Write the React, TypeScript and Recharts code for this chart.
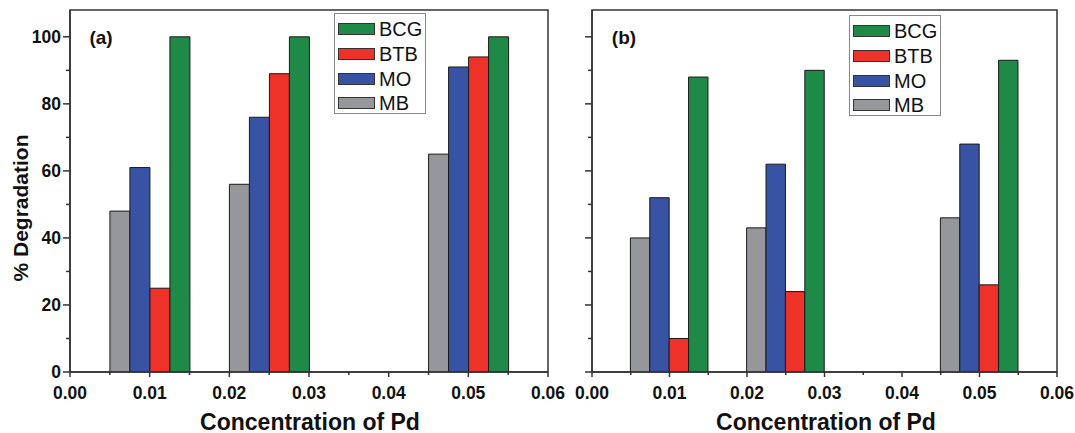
import React from "react";
import { BarChart, Bar, XAxis, YAxis, Legend, ReferenceArea } from "recharts";

// Pd concentration of each bar group
const CONCENTRATIONS = [0.01, 0.025, 0.05];
const SERIES = ["MB", "MO", "BTB", "BCG"];
const LEGEND_ORDER = ["BCG", "BTB", "MO", "MB"];

const COLORS: Record<string, string> = {
  MB: "#96979b",
  MO: "#3953a4",
  BTB: "#ee3129",
  BCG: "#1f8a47",
};

// panel (a)
const MB_A = [48, 56, 65];
const MO_A = [61, 76, 91];
const BTB_A = [25, 89, 94];
const BCG_A = [100, 100, 100];

// panel (b)
const MB_B = [40, 43, 46];
const MO_B = [52, 62, 68];
const BTB_B = [10, 24, 26];
const BCG_B = [88, 90, 93];

const X_TICKS = [0, 0.005, 0.01, 0.015, 0.02, 0.025, 0.03, 0.035, 0.04, 0.045, 0.05, 0.055, 0.06];
const Y_TICKS = [0, 10, 20, 30, 40, 50, 60, 70, 80, 90, 100];

const AXIS = "#333";
const FONT = "'Liberation Sans', Arial, sans-serif";

const dataA = CONCENTRATIONS.map((x, i) => ({ x, MB: MB_A[i], MO: MO_A[i], BTB: BTB_A[i], BCG: BCG_A[i] }));
const dataB = CONCENTRATIONS.map((x, i) => ({ x, MB: MB_B[i], MO: MO_B[i], BTB: BTB_B[i], BCG: BCG_B[i] }));

const XTick = (props: any) => {
  const { x, y, payload } = props;
  const v = payload.value;
  const major = Math.round(v * 1000) % 10 === 0;
  return (
    <g>
      <line x1={x} x2={x} y1={y} y2={y + (major ? 5 : 3)} stroke={AXIS} strokeWidth={1.5} />
      {major && (
        <text x={x} y={y + 27} textAnchor="middle" fontFamily={FONT} fontWeight="bold" fontSize={17.5} fill="#111">
          {v.toFixed(2)}
        </text>
      )}
    </g>
  );
};

const makeYTick = (showLabels: boolean) => (props: any) => {
  const { x, y, payload } = props;
  const v = payload.value;
  const major = v % 20 === 0;
  return (
    <g>
      <line x1={x - (major ? 7 : 4)} x2={x} y1={y} y2={y} stroke={AXIS} strokeWidth={1.5} />
      {showLabels && major && (
        <text x={x - 9} y={y + 6} textAnchor="end" fontFamily={FONT} fontWeight="bold" fontSize={17.5} fill="#111">
          {v}
        </text>
      )}
    </g>
  );
};

const LegendBox = () => (
  <div
    style={{
      border: "1px solid #888",
      background: "#fff",
      boxSizing: "border-box",
      width: 92,
      height: 101,
      paddingTop: 3,
      fontFamily: FONT,
    }}
  >
    {LEGEND_ORDER.map((s) => (
      <div key={s} style={{ height: 24.7, display: "flex", alignItems: "center" }}>
        <div
          style={{
            width: 37,
            height: 12,
            marginLeft: 3,
            background: COLORS[s],
            border: "1.5px solid #333",
            boxSizing: "border-box",
          }}
        />
        <span style={{ marginLeft: 4, fontSize: 20, color: "#111", lineHeight: "20px" }}>{s}</span>
      </div>
    ))}
  </div>
);

type PanelProps = {
  data: any[];
  width: number;
  yAxisWidth: number;
  right: number;
  barSize: number;
  showYLabels: boolean;
  legendPos: { left: number; top: number };
};

const Panel = ({ data, width, yAxisWidth, right, barSize, showYLabels, legendPos }: PanelProps) => (
  <BarChart
    width={width}
    height={433}
    data={data}
    margin={{ top: 10, right, left: 10, bottom: 0 }}
    barGap={0}
  >
    <XAxis
      dataKey="x"
      type="number"
      domain={[0, 0.06]}
      ticks={X_TICKS}
      interval={0}
      allowDataOverflow
      height={61}
      tickSize={0}
      tickMargin={0}
      tickLine={false}
      axisLine={{ stroke: AXIS, strokeWidth: 1.5 }}
      tick={<XTick />}
    />
    <YAxis
      type="number"
      domain={[0, 108]}
      ticks={Y_TICKS}
      interval={0}
      allowDataOverflow
      width={yAxisWidth}
      tickSize={0}
      tickMargin={0}
      tickLine={false}
      axisLine={{ stroke: AXIS, strokeWidth: 1.5 }}
      tick={makeYTick(showYLabels)}
    />
    <ReferenceArea
      x1={0}
      x2={0.06}
      y1={0}
      y2={108}
      fill="none"
      fillOpacity={0}
      stroke={AXIS}
      strokeWidth={1.5}
      strokeOpacity={1}
      ifOverflow="visible"
    />
    {SERIES.map((s) => (
      <Bar
        key={s}
        dataKey={s}
        fill={COLORS[s]}
        stroke="#1a1a1a"
        strokeWidth={1}
        barSize={barSize}
        isAnimationActive={false}
      />
    ))}
    <Legend
      layout="vertical"
      align="center"
      verticalAlign="middle"
      wrapperStyle={{ left: legendPos.left, top: legendPos.top, width: 92 }}
      content={() => <LegendBox />}
    />
  </BarChart>
);

const textBase: React.CSSProperties = {
  position: "absolute",
  fontFamily: FONT,
  fontWeight: "bold",
  color: "#111",
  whiteSpace: "nowrap",
  transform: "translate(-50%, -50%)",
};

export default function App() {
  return (
    <div style={{ position: "absolute", left: 0, top: 0, width: 1075, height: 433, background: "#fff" }}>
      <div style={{ position: "absolute", left: 0, top: 0 }}>
        <Panel
          data={dataA}
          width={580}
          yAxisWidth={60}
          right={32}
          barSize={20}
          showYLabels
          legendPos={{ left: 334, top: 13 }}
        />
      </div>
      <div style={{ position: "absolute", left: 560, top: 0 }}>
        <Panel
          data={dataB}
          width={515}
          yAxisWidth={22}
          right={18}
          barSize={19.4}
          showYLabels={false}
          legendPos={{ left: 289, top: 15 }}
        />
      </div>
      <div style={{ ...textBase, left: 101, top: 38, fontSize: 19 }}>(a)</div>
      <div style={{ ...textBase, left: 624, top: 38, fontSize: 19 }}>(b)</div>
      <div style={{ ...textBase, left: 21, top: 208, fontSize: 21, transform: "translate(-50%, -50%) rotate(-90deg)" }}>
        % Degradation
      </div>
      <div style={{ ...textBase, left: 310, top: 422, fontSize: 23 }}>Concentration of Pd</div>
      <div style={{ ...textBase, left: 826, top: 422, fontSize: 23 }}>Concentration of Pd</div>
    </div>
  );
}
